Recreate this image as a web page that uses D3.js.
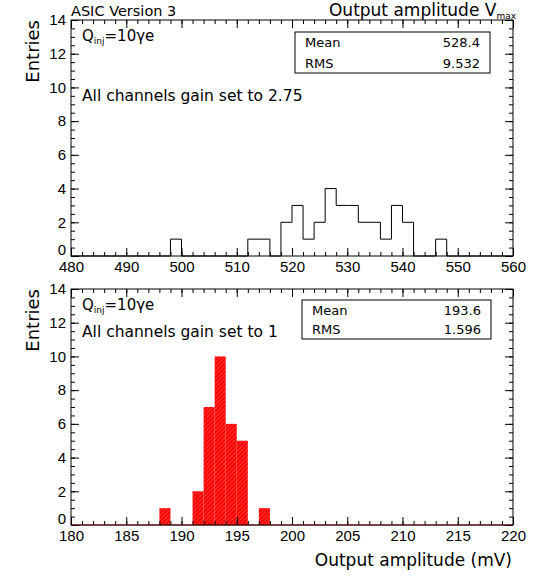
<!DOCTYPE html>
<html>
<head>
<meta charset="utf-8">
<script src="https://cdn.jsdelivr.net/npm/d3@7/dist/d3.min.js"></script>
<style>
  body { margin: 0; background: #fff; }
  svg text { font-family: "DejaVu Sans", sans-serif; fill: #000; }
  .axis text { font-family: "Liberation Sans", Arial, sans-serif; font-size: 15px; }
  .axis line { stroke: #000; }
</style>
</head>
<body>
<div id="chart"></div>
<script>
// upper histogram: output amplitude at gain 2.75, 2 mV bins from 480 to 560
const topRange = [480, 560];
const topBinWidth = 2;
const topCounts = [
  0, 0, 0, 0, 0, 0, 0, 0, 0, 1,
  0, 0, 0, 0, 0, 0, 1, 1, 0, 2,
  3, 1, 2, 4, 3, 3, 2, 2, 1, 3,
  2, 0, 0, 1, 0, 0, 0, 0, 0, 0
];
const topXTicks = [480, 490, 500, 510, 520, 530, 540, 550, 560];
const topStats = [['Mean', '528.4'], ['RMS', '9.532']];

// lower histogram: gain 1, 1 mV bins from 180 to 220
const bottomRange = [180, 220];
const bottomBinWidth = 1;
const bottomCounts = [
  0, 0, 0, 0, 0, 0, 0, 0, 1, 0,
  0, 2, 7, 10, 6, 5, 0, 1, 0, 0,
  0, 0, 0, 0, 0, 0, 0, 0, 0, 0,
  0, 0, 0, 0, 0, 0, 0, 0, 0, 0
];
const bottomXTicks = [180, 185, 190, 195, 200, 205, 210, 215, 220];
const bottomStats = [['Mean', '193.6'], ['RMS', '1.596']];

const yTicks = [0, 2, 4, 6, 8, 10, 12, 14];
const yMax = 14;

const W = 537, H = 576;
const frameLeft = 71, frameRight = 513;

const svg = d3.select('#chart').append('svg')
  .attr('width', W).attr('height', H);

const defs = svg.append('defs');
const pat = defs.append('pattern')
  .attr('id', 'hatch')
  .attr('patternUnits', 'userSpaceOnUse')
  .attr('width', 3).attr('height', 3)
  .attr('patternTransform', 'rotate(45)');
pat.append('rect').attr('width', 3).attr('height', 3).attr('fill', '#ff0000');
pat.append('line').attr('x1', 0).attr('y1', 0).attr('x2', 0).attr('y2', 3)
  .attr('stroke', '#ff8a8a').attr('stroke-width', 0.8);

function bins(range, width, counts) {
  return counts.map((c, i) => ({ x0: range[0] + i * width, x1: range[0] + (i + 1) * width, n: c }));
}

function drawPanel(cfg) {
  const x = d3.scaleLinear().domain(cfg.range).range([frameLeft, frameRight]);
  const y = d3.scaleLinear().domain([0, yMax]).range([cfg.bottom, cfg.top]);
  const data = bins(cfg.range, cfg.binWidth, cfg.counts);
  const g = svg.append('g');

  if (cfg.filled) {
    g.append('g').selectAll('rect')
      .data(data.filter(d => d.n > 0))
      .enter().append('rect')
      .attr('x', d => x(d.x0))
      .attr('y', d => y(d.n))
      .attr('width', d => x(d.x1) - x(d.x0))
      .attr('height', d => y(0) - y(d.n))
      .attr('fill', 'url(#hatch)');
  } else {
    const pts = [];
    data.forEach(d => { pts.push([d.x0, d.n]); pts.push([d.x1, d.n]); });
    const line = d3.line().x(d => x(d[0])).y(d => y(d[1]));
    g.append('path')
      .attr('d', line(pts))
      .attr('fill', 'none')
      .attr('stroke', '#000')
      .attr('stroke-width', 1);
  }

  const majorX = cfg.xTicks;
  const step = (majorX[1] - majorX[0]) / 5;
  const minorX = d3.range(cfg.range[0], cfg.range[1] + step / 2, step);
  const minorY = d3.range(0, yMax + 0.25, 0.5);

  const clean = sel => sel.select('.domain').remove();

  // bottom
  g.append('g').attr('class', 'axis').attr('transform', 'translate(0,' + cfg.bottom + ')')
    .call(d3.axisBottom(x).tickValues(minorX).tickSizeInner(-4).tickSizeOuter(0).tickFormat(''))
    .call(clean);
  g.append('g').attr('class', 'axis').attr('transform', 'translate(0,' + cfg.bottom + ')')
    .call(d3.axisBottom(x).tickValues(majorX).tickSizeInner(-8).tickSizeOuter(0).tickPadding(5))
    .call(clean);
  // top
  g.append('g').attr('class', 'axis').attr('transform', 'translate(0,' + cfg.top + ')')
    .call(d3.axisTop(x).tickValues(minorX).tickSizeInner(-4).tickSizeOuter(0).tickFormat(''))
    .call(clean);
  g.append('g').attr('class', 'axis').attr('transform', 'translate(0,' + cfg.top + ')')
    .call(d3.axisTop(x).tickValues(majorX).tickSizeInner(-8).tickSizeOuter(0).tickFormat(''))
    .call(clean);
  // left
  g.append('g').attr('class', 'axis').attr('transform', 'translate(' + frameLeft + ',0)')
    .call(d3.axisLeft(y).tickValues(minorY).tickSizeInner(-4).tickSizeOuter(0).tickFormat(''))
    .call(clean);
  const yAx = g.append('g').attr('class', 'axis').attr('transform', 'translate(' + frameLeft + ',0)')
    .call(d3.axisLeft(y).tickValues(yTicks).tickSizeInner(-8).tickSizeOuter(0).tickPadding(5))
    .call(clean);
  // the zero label sits a little high, just above the x labels
  yAx.selectAll('.tick text').filter(d => d === 0).attr('dy', '-0.1em');
  // right
  g.append('g').attr('class', 'axis').attr('transform', 'translate(' + frameRight + ',0)')
    .call(d3.axisRight(y).tickValues(minorY).tickSizeInner(-4).tickSizeOuter(0).tickFormat(''))
    .call(clean);
  g.append('g').attr('class', 'axis').attr('transform', 'translate(' + frameRight + ',0)')
    .call(d3.axisRight(y).tickValues(yTicks).tickSizeInner(-8).tickSizeOuter(0).tickFormat(''))
    .call(clean);

  // frame
  g.append('rect')
    .attr('x', frameLeft).attr('y', cfg.top)
    .attr('width', frameRight - frameLeft).attr('height', cfg.bottom - cfg.top)
    .attr('fill', 'none').attr('stroke', '#000').attr('stroke-width', 1);
  if (cfg.filled) {
    g.append('line')
      .attr('x1', frameLeft).attr('x2', frameRight)
      .attr('y1', cfg.bottom).attr('y2', cfg.bottom)
      .attr('stroke', '#6b0d0d').attr('stroke-width', 1.2);
  }

  // y title
  g.append('text')
    .attr('transform', 'translate(39,' + cfg.top + ') rotate(-90)')
    .attr('text-anchor', 'end')
    .style('font-size', '18px')
    .text('Entries');

  // Q_inj label
  const q = g.append('text')
    .attr('x', 82).attr('y', cfg.top + 21)
    .style('font-size', '15px');
  q.append('tspan').text('Q');
  q.append('tspan').attr('dy', 3).style('font-size', '9px').text('inj');
  q.append('tspan').attr('dy', -3).text('=10\u03b3e');

  g.append('text')
    .attr('x', 82).attr('y', cfg.noteY)
    .style('font-size', '15.5px')
    .text(cfg.note);

  // stats box
  const b = cfg.box;
  g.append('rect')
    .attr('x', b.x).attr('y', b.y).attr('width', b.w).attr('height', b.h)
    .attr('fill', '#fff').attr('stroke', '#000').attr('stroke-width', 1);
  const rowH = b.h / cfg.stats.length;
  cfg.stats.forEach((s, i) => {
    const by = b.y + rowH * i + rowH / 2 + 5;
    g.append('text').attr('x', b.x + 10).attr('y', by)
      .style('font-size', '13px').text(s[0]);
    g.append('text').attr('x', b.x + b.w - 10).attr('y', by)
      .attr('text-anchor', 'end')
      .style('font-size', '13px').text(s[1]);
  });
}

drawPanel({
  range: topRange, binWidth: topBinWidth, counts: topCounts, xTicks: topXTicks,
  top: 20, bottom: 256, filled: false,
  stats: topStats, box: { x: 295, y: 32, w: 195, h: 41 },
  note: 'All channels gain set to 2.75', noteY: 101
});

drawPanel({
  range: bottomRange, binWidth: bottomBinWidth, counts: bottomCounts, xTicks: bottomXTicks,
  top: 289, bottom: 525, filled: true,
  stats: bottomStats, box: { x: 302, y: 300, w: 189, h: 39 },
  note: 'All channels gain set to 1', noteY: 337
});

// titles
svg.append('text')
  .attr('x', 71).attr('y', 16)
  .style('font-size', '14.5px')
  .text('ASIC Version 3');

const rt = svg.append('text')
  .attr('x', 516).attr('y', 16)
  .attr('text-anchor', 'end')
  .style('font-size', '17px');
rt.append('tspan').text('Output amplitude V');
rt.append('tspan').attr('dy', 3).style('font-size', '9px').text('max');

svg.append('text')
  .attr('x', 512).attr('y', 566)
  .attr('text-anchor', 'end')
  .style('font-size', '17px')
  .text('Output amplitude (mV)');
</script>
</body>
</html>
